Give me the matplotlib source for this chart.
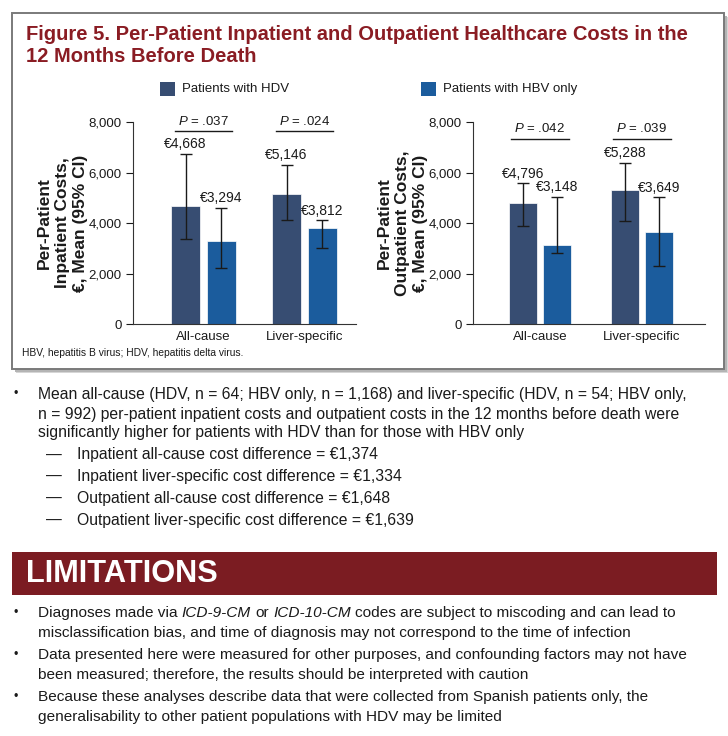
import numpy as np
import matplotlib
matplotlib.use("Agg")
import matplotlib.pyplot as plt
from matplotlib import font_manager
from matplotlib.patches import Rectangle
from matplotlib.transforms import Affine2D
from matplotlib.ticker import FuncFormatter

W, H = 728, 736

# --- data ---
categories = ["All-cause", "Liver-specific"]
group_names = ["Patients with HDV", "Patients with HBV only"]
group_colors = ["#374d72", "#1b5c9d"]

hdv_inpatient = [4668, 5146]
hdv_inpatient_ci = [(3380, 6740), (4130, 6300)]
hbv_inpatient = [3294, 3812]
hbv_inpatient_ci = [(2210, 4590), (3010, 4100)]
inpatient_p = [".037", ".024"]

hdv_outpatient = [4796, 5288]
hdv_outpatient_ci = [(3895, 5566), (4080, 6380)]
hbv_outpatient = [3148, 3649]
hbv_outpatient_ci = [(2830, 5030), (2280, 5010)]
outpatient_p = [".042", ".039"]

yticks = [0, 2000, 4000, 6000, 8000]

title_lines = ["Figure 5. Per-Patient Inpatient and Outpatient Healthcare Costs in the",
               "12 Months Before Death"]
footnote = "HBV, hepatitis B virus; HDV, hepatitis delta virus."
summary = ["Mean all-cause (HDV, n = 64; HBV only, n = 1,168) and liver-specific (HDV, n = 54; HBV only,",
           "n = 992) per-patient inpatient costs and outpatient costs in the 12 months before death were",
           "significantly higher for patients with HDV than for those with HBV only"]
differences = ["Inpatient all-cause cost difference = €1,374",
               "Inpatient liver-specific cost difference = €1,334",
               "Outpatient all-cause cost difference = €1,648",
               "Outpatient liver-specific cost difference = €1,639"]
limitations = [
    [[("Diagnoses made via ", False), ("ICD-9-CM", True), (" or ", False), ("ICD-10-CM", True),
      (" codes are subject to miscoding and can lead to", False)],
     [("misclassification bias, and time of diagnosis may not correspond to the time of infection", False)]],
    [[("Data presented here were measured for other purposes, and confounding factors may not have", False)],
     [("been measured; therefore, the results should be interpreted with caution", False)]],
    [[("Because these analyses describe data that were collected from Spanish patients only, the", False)],
     [("generalisability to other patient populations with HDV may be limited", False)]],
]

names = {f.name for f in font_manager.fontManager.ttflist}
NARROW = "Liberation Sans Narrow" if "Liberation Sans Narrow" in names else "Liberation Sans"
plt.rcParams["font.family"] = ["Liberation Sans", "DejaVu Sans"]
plt.rcParams["mathtext.fontset"] = "custom"
plt.rcParams["mathtext.it"] = "Liberation Sans:italic"
plt.rcParams["mathtext.rm"] = "Liberation Sans"

TEXT = "#1a1a1a"
RED = "#8a1c23"
BANNER = "#7b1c22"

fig = plt.figure(figsize=(W / 100, H / 100), dpi=100)
# pixel coordinates measured from the top-left corner
px = Affine2D().scale(1 / W, -1 / H).translate(0, 1) + fig.transFigure
rend = fig.canvas.get_renderer()


def fit_size(s, target, **kw):
    t = fig.text(0, 0, s, fontsize=10, **kw)
    w = t.get_window_extent(rend).width
    t.remove()
    return 10 * target / w


def text_width(s, size, **kw):
    t = fig.text(0, 0, s, fontsize=size, **kw)
    w = t.get_window_extent(rend).width
    t.remove()
    return w


# framed figure box with a soft shadow (kept behind the axes)
for off, col in [(4, "#d6d6d6"), (2.5, "#b4b4b4")]:
    fig.patches.append(Rectangle((12 + off, 369 + off), 712, -356, transform=px,
                                 facecolor=col, edgecolor="none", zorder=-3))
fig.patches.append(Rectangle((12, 369), 712, -356, transform=px, facecolor="white",
                             edgecolor="#7a7a7a", linewidth=1.4, zorder=-2))

ts = fit_size(title_lines[0], 662, family=NARROW, weight="bold")
for s, y in zip(title_lines, [35, 57]):
    fig.text(26, y, s, transform=px, fontsize=ts, family=NARROW, weight="bold",
             color=RED, va="center", ha="left")

# legend
for name, col, x in zip(group_names, group_colors, [160, 421]):
    fig.patches.append(Rectangle((x, 96), 15, -14, transform=px, facecolor=col,
                                 edgecolor="none", zorder=1))
    fig.text(x + 22, 89, name, transform=px, fontsize=9.5, color=TEXT, va="center", ha="left")


def cost_panel(rect, hdv, hdv_ci, hbv, hbv_ci, pvals, ylabel, xlim, width, offset, bracket_y):
    left, top, right, bottom = rect
    ax = fig.add_axes([left / W, 1 - bottom / H, (right - left) / W, (bottom - top) / H])
    ax.patch.set_alpha(0)
    x = np.arange(len(categories))
    for sign, vals, ci, col in [(-1, hdv, hdv_ci, group_colors[0]), (1, hbv, hbv_ci, group_colors[1])]:
        xs = x + sign * offset
        vals = np.array(vals)
        lo = np.array([c[0] for c in ci])
        hi = np.array([c[1] for c in ci])
        ax.bar(xs, vals, width, color=col, edgecolor="white", linewidth=0.5, zorder=2)
        ax.errorbar(xs, vals, yerr=[vals - lo, hi - vals], fmt="none", ecolor=TEXT,
                    elinewidth=1, capsize=4.5, capthick=1, zorder=3)
        for xv, v, h in zip(xs, vals, hi):
            ax.annotate(f"€{v:,}", (xv, h), xytext=(0, 2), textcoords="offset points",
                        ha="center", va="bottom", fontsize=10, color=TEXT)
    for xc, p in zip(x, pvals):
        ax.plot([xc - 0.28, xc + 0.28], [bracket_y, bracket_y], color=TEXT, lw=1, clip_on=False)
        ax.annotate(r"$P$ = " + p, (xc, bracket_y), xytext=(0, 2.5), textcoords="offset points",
                    ha="center", va="bottom", fontsize=9.5, color=TEXT)
    ax.set_xlim(*xlim)
    ax.set_ylim(0, 8000)
    ax.set_yticks(yticks)
    ax.yaxis.set_major_formatter(FuncFormatter(lambda v, _: f"{int(v):,}"))
    ax.set_xticks(x)
    ax.set_xticklabels(categories)
    ax.tick_params(axis="x", length=0, pad=5, labelsize=9.5, colors=TEXT)
    ax.tick_params(axis="y", length=5, width=0.8, pad=3, labelsize=9.5, colors=TEXT)
    for s in ["top", "right"]:
        ax.spines[s].set_visible(False)
    for s in ["left", "bottom"]:
        ax.spines[s].set_color("#333333")
        ax.spines[s].set_linewidth(0.8)
    fig.text(left - 71, (top + bottom) / 2, ylabel, transform=px, rotation=90, ha="center",
             va="center", multialignment="center", fontsize=12.5, weight="bold",
             linespacing=1.25, color=TEXT)
    return ax


cost_panel((133, 122, 356, 324), hdv_inpatient, hdv_inpatient_ci, hbv_inpatient, hbv_inpatient_ci,
           inpatient_p, "Per-Patient\nInpatient Costs,\n€, Mean (95% CI)",
           (-0.698, 1.51), 0.287, 0.178, 7640)
cost_panel((473, 122, 705, 324), hdv_outpatient, hdv_outpatient_ci, hbv_outpatient, hbv_outpatient_ci,
           outpatient_p, "Per-Patient\nOutpatient Costs,\n€, Mean (95% CI)",
           (-0.657, 1.618), 0.275, 0.167, 7330)

fs = fit_size(footnote, 221)
fig.text(22, 353, footnote, transform=px, fontsize=fs, color=TEXT, va="center", ha="left")

# summary bullet
bs = fit_size(summary[0], 649, family=NARROW)
fig.text(14, 394, "•", transform=px, fontsize=bs * 0.8, color=TEXT, va="center", ha="left")
for s, y in zip(summary, [394, 414, 433]):
    fig.text(38, y, s, transform=px, fontsize=bs, family=NARROW, color=TEXT, va="center", ha="left")
for s, y in zip(differences, [455, 476, 498, 520]):
    fig.text(46, y, "—", transform=px, fontsize=bs, family=NARROW, color=TEXT, va="center", ha="left")
    fig.text(77, y, s, transform=px, fontsize=bs, family=NARROW, color=TEXT, va="center", ha="left")

# limitations banner
fig.patches.append(Rectangle((12, 595), 705, -43, transform=px, facecolor=BANNER,
                             edgecolor="none", zorder=1))
ls = fit_size("LIMITATIONS", 190, family=NARROW, weight="bold")
fig.text(26, 574, "LIMITATIONS", transform=px, fontsize=ls, family=NARROW, weight="bold",
         color="white", va="center", ha="left")

plain_first = "".join(seg for seg, _ in limitations[0][0])
lsz = fit_size(plain_first, 639, family=NARROW)
space_w = text_width("a a", lsz, family=NARROW) - text_width("aa", lsz, family=NARROW)
for item, y0 in zip(limitations, [613, 655, 697]):
    fig.text(14, y0, "•", transform=px, fontsize=lsz * 0.8, color=TEXT, va="center", ha="left")
    for k, line in enumerate(item):
        y = y0 + k * 20
        x = 38.0
        for seg, ital in line:
            lead = len(seg) - len(seg.lstrip(" "))
            trail = len(seg) - len(seg.rstrip(" "))
            core = seg.strip(" ")
            x += lead * space_w
            style = "italic" if ital else "normal"
            fig.text(x, y, core, transform=px, fontsize=lsz, family=NARROW, style=style,
                     color=TEXT, va="center", ha="left")
            x += text_width(core, lsz, family=NARROW, style=style) + trail * space_w

fig.savefig("out.png", dpi=100)
